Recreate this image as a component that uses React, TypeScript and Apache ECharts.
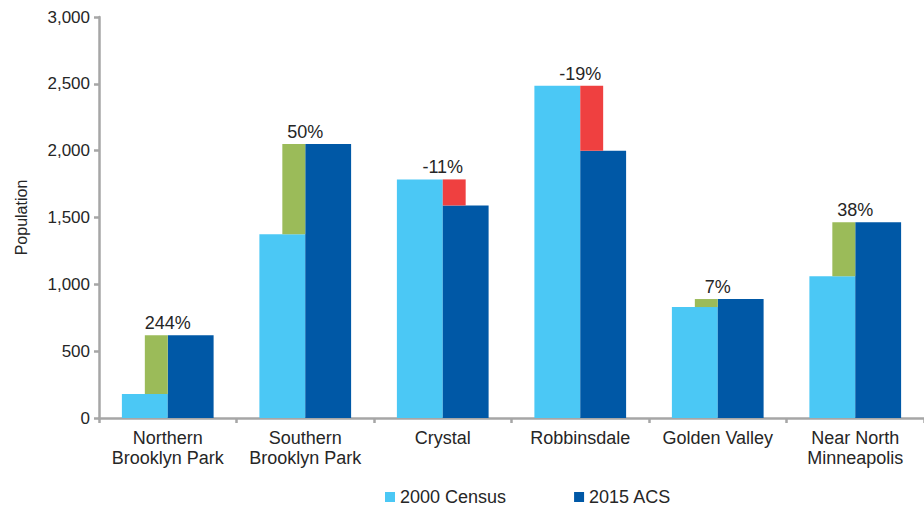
import React, { useEffect, useRef } from "react";
import * as echarts from "echarts";

const categories = [
  "Northern\nBrooklyn Park",
  "Southern\nBrooklyn Park",
  "Crystal",
  "Robbinsdale",
  "Golden Valley",
  "Near North\nMinneapolis",
];
const census2000 = [180, 1375, 1785, 2485, 830, 1060];
const acs2015 = [619, 2050, 1590, 2000, 890, 1465];
const pctLabels = ["244%", "50%", "-11%", "-19%", "7%", "38%"];
const yTicks = { min: 0, max: 3000, interval: 500 };

const LIGHT = "#4bc8f5";
const DARK = "#0058a6";
const GREEN = "#9bbb59";
const RED = "#ef4040";
const AXIS = "#a6a6a6";
const TEXT = "#262626";
const FONT = "'Liberation Sans', Arial, sans-serif";

export default function App() {
  const ref = useRef<HTMLDivElement>(null);
  useEffect(() => {
    if (!ref.current) return;
    const chart = echarts.init(ref.current, undefined, { renderer: "svg" });
    const changeData = categories.map((_, i) => [i, census2000[i], acs2015[i]]);
    chart.setOption({
      animation: false,
      textStyle: { fontFamily: FONT },
      grid: { left: 99, right: 0, top: 17, bottom: 88, containLabel: false },
      legend: {
        data: [
          { name: "2000 Census", itemStyle: { color: LIGHT } },
          { name: "2015 ACS", itemStyle: { color: DARK } },
        ],
        left: 380,
        top: 483,
        icon: "rect",
        itemWidth: 10,
        itemHeight: 10,
        itemGap: 68,
        textStyle: { fontSize: 18, color: TEXT, fontFamily: FONT },
      },
      xAxis: {
        type: "category",
        data: categories,
        axisLine: { lineStyle: { color: AXIS, width: 2.5 } },
        axisTick: { show: true, length: 5, lineStyle: { color: AXIS, width: 2.5 } },
        axisLabel: { fontSize: 18, lineHeight: 20, color: TEXT, margin: 10, fontFamily: FONT, interval: 0 },
      },
      yAxis: {
        type: "value",
        min: yTicks.min,
        max: yTicks.max,
        interval: yTicks.interval,
        name: "Population",
        nameLocation: "middle",
        nameGap: 70,
        nameTextStyle: { fontSize: 16, color: TEXT, fontFamily: FONT },
        axisLine: { show: true, lineStyle: { color: AXIS, width: 2.5 } },
        axisTick: { show: true, length: 5, lineStyle: { color: AXIS, width: 2.5 } },
        splitLine: { show: false },
        axisLabel: {
          fontSize: 17,
          color: TEXT,
          margin: 9,
          fontFamily: FONT,
          formatter: (v: number) => v.toLocaleString("en-US"),
        },
      },
      series: [
        {
          name: "2000 Census",
          type: "bar",
          data: census2000,
          barGap: "0%",
          barCategoryGap: "33.3%",
          itemStyle: { color: LIGHT },
        },
        {
          name: "2015 ACS",
          type: "bar",
          data: acs2015,
          itemStyle: { color: DARK },
        },
        {
          name: "Change",
          type: "custom",
          data: changeData,
          encode: { x: 0, y: [1, 2] },
          z: 5,
          renderItem: (params: any, api: any) => {
            const idx = api.value(0);
            const a = api.value(1);
            const b = api.value(2);
            const center = api.coord([idx, 0]);
            const catW = api.size([1, 0])[0];
            const half = catW / 6;
            const x = b >= a ? center[0] - half : center[0];
            const yTop = api.coord([idx, Math.max(a, b)])[1];
            const yBot = api.coord([idx, Math.min(a, b)])[1];
            return {
              type: "group",
              children: [
                {
                  type: "rect",
                  shape: { x, y: yTop, width: half, height: yBot - yTop },
                  style: { fill: b >= a ? GREEN : RED },
                },
                {
                  type: "text",
                  x: center[0],
                  y: yTop - 3,
                  style: {
                    text: pctLabels[idx],
                    fill: TEXT,
                    font: `18px ${FONT}`,
                    textAlign: "center",
                    textVerticalAlign: "bottom",
                  },
                },
              ],
            };
          },
        },
      ],
    });
    return () => chart.dispose();
  }, []);
  return <div ref={ref} style={{ width: 924, height: 506, position: "absolute", left: 0, top: 0 }} />;
}
